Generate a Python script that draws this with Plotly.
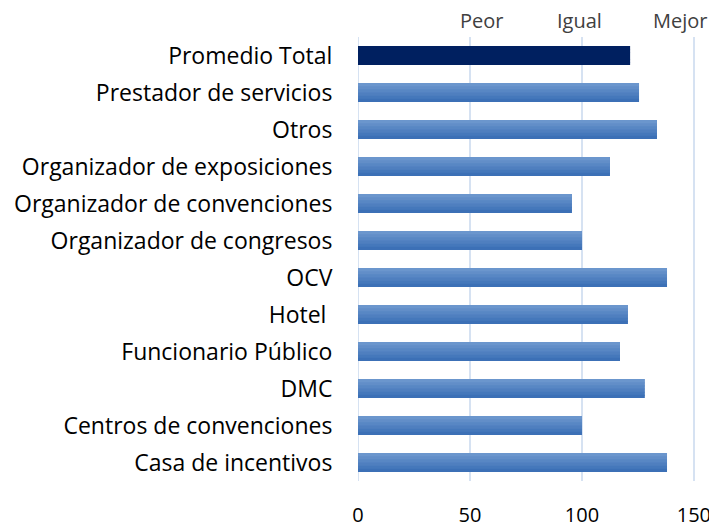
import plotly.graph_objects as go

categories = ["Promedio Total", "Prestador de servicios", "Otros", "Organizador de exposiciones",
              "Organizador de convenciones", "Organizador de congresos", "OCV", "Hotel ",
              "Funcionario Público", "DMC", "Centros de convenciones", "Casa de incentivos"]
values = [121.5, 125.5, 133.5, 112.5, 95.5, 100, 138, 120.5, 117, 128, 100, 138]
tick_vals = [0, 50, 100, 150]
top_labels = ["Peor", "Igual", "Mejor"]
top_label_pos = [55, 99, 144]

FONT = "Open Sans"
bar_w = 0.51
n_strips = 6
top_col = (0x6b, 0x96, 0xcd)
bot_col = (0x3c, 0x70, 0xb6)
TOTAL_COL = "#002060"
PAGE_OFFSET = 8  # default body margin of the page

fig = go.Figure()
mid = tuple((top_col[k] + bot_col[k]) // 2 for k in range(3))
fig.add_trace(go.Bar(
    y=categories, x=values, orientation="h",
    marker=dict(color=[TOTAL_COL if c == "Promedio Total" else "rgb(%d,%d,%d)" % mid for c in categories],
                line=dict(width=0)),
    width=bar_w, showlegend=False, hoverinfo="x+y",
))
for i in range(n_strips):
    t = i / (n_strips - 1)
    c = tuple(round(top_col[k] + (bot_col[k] - top_col[k]) * t) for k in range(3))
    col = "rgb(%d,%d,%d)" % c
    colors = [TOTAL_COL if cat == "Promedio Total" else col for cat in categories]
    w = bar_w / n_strips
    ov = 0.03
    start = -bar_w / 2 + i * w
    end = start + w + (ov if i < n_strips - 1 else 0)
    fig.add_trace(go.Bar(
        y=categories, x=values, orientation="h",
        marker=dict(color=colors, line=dict(width=0)),
        width=end - start, offset=start,
        showlegend=False, hoverinfo="skip",
    ))

for lab, pos in zip(top_labels, top_label_pos):
    fig.add_annotation(x=pos, y=1.0, xref="x", yref="paper", yanchor="bottom",
                       yshift=1, text=lab, showarrow=False,
                       font=dict(family=FONT, size=20, color="#404040"))

fig.update_layout(
    width=717 - PAGE_OFFSET, height=529 - PAGE_OFFSET,
    margin=dict(l=358 - PAGE_OFFSET, r=22, t=37 - PAGE_OFFSET, b=48),
    paper_bgcolor="white", plot_bgcolor="white",
    barmode="overlay",
    font=dict(family=FONT, size=23, color="black"),
)
fig.update_xaxes(range=[0, 150.5], tickvals=tick_vals, showgrid=True,
                 gridcolor="#d6e2f2", gridwidth=2, zeroline=False,
                 ticks="outside", ticklen=16, tickcolor="rgba(0,0,0,0)",
                 tickfont=dict(size=20), showline=False, automargin=False)
fig.update_yaxes(autorange="reversed", ticks="outside", ticklen=20,
                 tickcolor="rgba(0,0,0,0)", tickfont=dict(size=23), showline=False,
                 automargin=False)
fig.add_shape(type="line", xref="x", yref="paper", x0=0, x1=0, y0=0, y1=1,
              line=dict(color="#d6e2f2", width=2), layer="below")

fig.write_html("out.html")
